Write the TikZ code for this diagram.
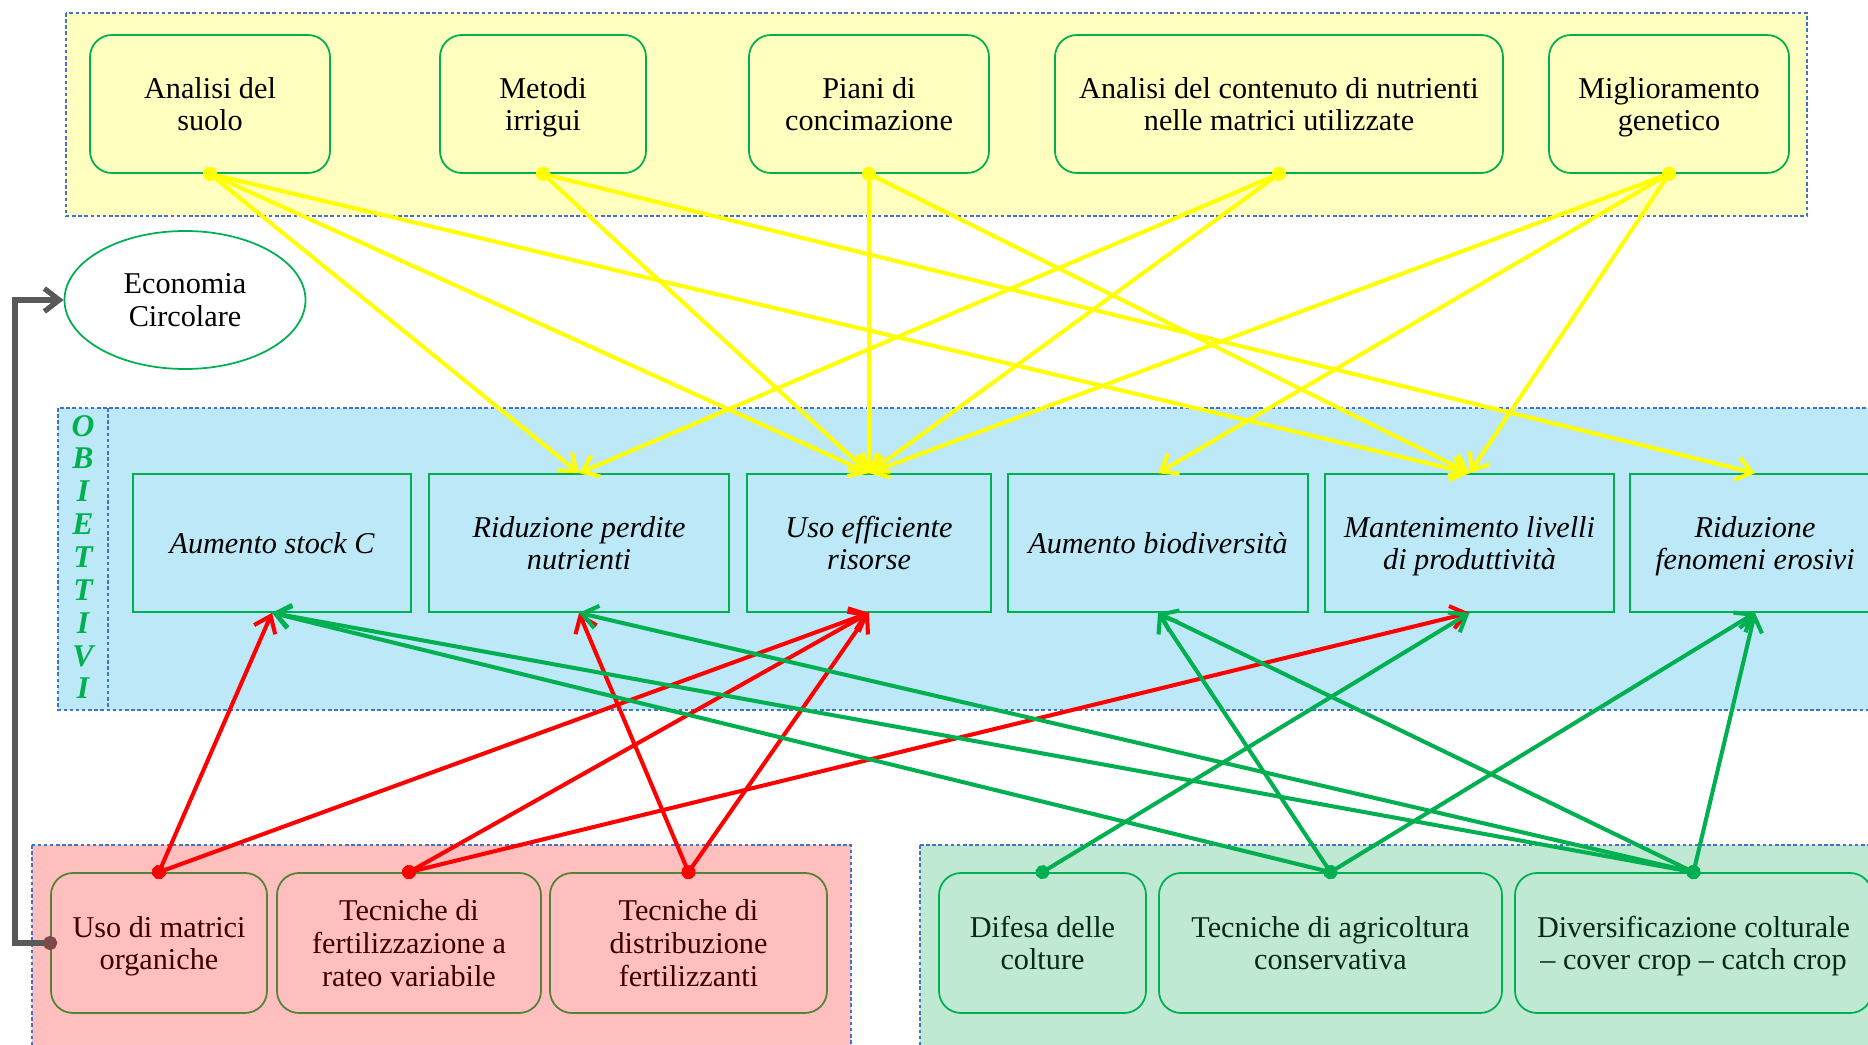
\documentclass[tikz,border=0pt]{standalone}
\usepackage{fontspec}
\setmainfont{Liberation Serif}
\usetikzlibrary{arrows.meta,shapes.geometric}

\definecolor{boxgreen}{HTML}{00B050}
\definecolor{topfill}{HTML}{FFFFC0}
\definecolor{goalfill}{HTML}{BDE8F7}
\definecolor{redfill}{HTML}{FFBFBF}
\definecolor{greenfill}{HTML}{BFE9D3}
\definecolor{oliveline}{HTML}{538135}
\definecolor{redtext}{HTML}{3D0000}
\definecolor{greentext}{HTML}{0A2912}
\definecolor{panelline}{HTML}{4472C4}
\definecolor{linkgray}{HTML}{595959}
\definecolor{dotbrown}{HTML}{7F4848}
\definecolor{linkyellow}{HTML}{FFFF00}
\definecolor{linkred}{HTML}{FF0000}

\tikzset{
  panelbox/.style={draw=panelline, line width=0.6pt, dash pattern=on 2pt off 1.5pt},
  topbox/.style={rectangle, rounded corners=4.4mm, draw=boxgreen, line width=1pt, fill=topfill, minimum height=27.6mm, align=center, inner sep=0pt, text depth=0pt},
  goalbox/.style={rectangle, draw=boxgreen, line width=1pt, fill=goalfill, minimum height=27.6mm, align=center, inner sep=0pt, text depth=0pt, font=\fontsize{17.2}{18.6}\selectfont\itshape},
  redbox/.style={rectangle, rounded corners=4.4mm, draw=oliveline, line width=1pt, fill=redfill, text=redtext, minimum height=28mm, align=center, inner sep=0pt, text depth=0pt},
  greenbox/.style={rectangle, rounded corners=4.4mm, draw=boxgreen, line width=1pt, fill=greenfill, text=greentext, minimum height=28mm, align=center, inner sep=0pt, text depth=0pt},
  link/.style={line width=2.3pt, arrows={Circle[length=2.8mm]-Straight Barb[length=3mm, width=4.6mm]}, shorten <=-1.4mm},
  ylink/.style={link, draw=linkyellow},
  rlink/.style={link, draw=linkred},
  glink/.style={link, draw=boxgreen},
  graylink/.style={draw=linkgray, line width=3pt, arrows={Circle[length=2.8mm, color=dotbrown]-Straight Barb[length=3mm, width=4.6mm]}, shorten <=-1.4mm}
}

\begin{document}
\begin{tikzpicture}[x=0.2mm, y=-0.2mm, font=\fontsize{17.2}{18.6}\selectfont]
  \useasboundingbox (0,0) rectangle (1868,1045);

  \draw[panelbox, fill=topfill] (66,13) rectangle (1807,216);
  \draw[panelbox, fill=goalfill] (58,408) rectangle (1890,710);
  \draw[panelbox] (108,408) -- (108,710);
  \draw[panelbox, fill=redfill] (32,845) rectangle (851,1070);
  \draw[panelbox, fill=greenfill] (920,845) rectangle (1890,1070);

  \node (suolo) [topbox, minimum width=48mm] at (210,104) {Analisi del\\suolo};
  \node (irrigui) [topbox, minimum width=41.2mm] at (543,104) {Metodi\\irrigui};
  \node (concimazione) [topbox, minimum width=48mm] at (869,104) {Piani di\\concimazione};
  \node (contenuto) [topbox, minimum width=89.6mm] at (1279,104) {Analisi del contenuto di nutrienti\\nelle matrici utilizzate};
  \node (genetico) [topbox, minimum width=48mm] at (1669,104) {Miglioramento\\genetico};

  \node (circolare) [ellipse, draw=boxgreen, line width=1pt, fill=white, minimum width=48.2mm, minimum height=27.6mm, align=center] at (185,300) {Economia\\Circolare};

  \node (obiettivi) [text=boxgreen, align=center, font=\fontsize{18}{18.7}\selectfont\bfseries\itshape] at (83,557) {O\\B\\I\\E\\T\\T\\I\\V\\I};

  \node (stock) [goalbox, minimum width=55.6mm] at (272,543) {Aumento stock C};
  \node (perdite) [goalbox, minimum width=60mm] at (579,543) {Riduzione perdite\\nutrienti};
  \node (risorse) [goalbox, minimum width=48.8mm] at (869,543) {Uso efficiente\\risorse};
  \node (biodiv) [goalbox, minimum width=60mm] at (1158,543) {Aumento biodiversità};
  \node (produttivita) [goalbox, minimum width=57.8mm] at (1469.5,543) {Mantenimento livelli\\di produttività};
  \node (erosivi) [goalbox, minimum width=50mm] at (1755,543) {Riduzione\\fenomeni erosivi};

  \node (organiche) [redbox, minimum width=43.2mm] at (159,943) {Uso di matrici\\organiche};
  \node (rateo) [redbox, minimum width=52.8mm] at (409,943) {Tecniche di\\fertilizzazione a\\rateo variabile};
  \node (distribuzione) [redbox, minimum width=55.4mm] at (688.5,943) {Tecniche di\\distribuzione\\fertilizzanti};
  \node (difesa) [greenbox, minimum width=41.4mm] at (1042.5,943) {Difesa delle\\colture};
  \node (conservativa) [greenbox, minimum width=68.6mm] at (1330.5,943) {Tecniche di agricoltura\\conservativa};
  \node (diversificazione) [greenbox, minimum width=71.4mm] at (1693.5,943) {Diversificazione colturale\\– cover crop – catch crop};

  \draw[ylink] (suolo.south) -- (perdite.north);
  \draw[ylink] (suolo.south) -- (risorse.north);
  \draw[ylink] (suolo.south) -- (produttivita.north);
  \draw[ylink] (irrigui.south) -- (risorse.north);
  \draw[ylink] (irrigui.south) -- (erosivi.north);
  \draw[ylink] (concimazione.south) -- (risorse.north);
  \draw[ylink] (concimazione.south) -- (produttivita.north);
  \draw[ylink] (contenuto.south) -- (perdite.north);
  \draw[ylink] (contenuto.south) -- (risorse.north);
  \draw[ylink] (genetico.south) -- (risorse.north);
  \draw[ylink] (genetico.south) -- (biodiv.north);
  \draw[ylink] (genetico.south) -- (produttivita.north);

  \draw[rlink] (organiche.north) -- (stock.south);
  \draw[rlink] (organiche.north) -- (risorse.south);
  \draw[rlink] (rateo.north) -- (risorse.south);
  \draw[rlink] (rateo.north) -- (produttivita.south);
  \draw[rlink] (distribuzione.north) -- (perdite.south);
  \draw[rlink] (distribuzione.north) -- (risorse.south);

  \draw[glink] (difesa.north) -- (produttivita.south);
  \draw[glink] (conservativa.north) -- (stock.south);
  \draw[glink] (conservativa.north) -- (biodiv.south);
  \draw[glink] (conservativa.north) -- (erosivi.south);
  \draw[glink] (diversificazione.north) -- (stock.south);
  \draw[glink] (diversificazione.north) -- (perdite.south);
  \draw[glink] (diversificazione.north) -- (biodiv.south);
  \draw[glink] (diversificazione.north) -- (erosivi.south);

  \draw[graylink] (organiche.west) -- ++(-35,0) |- (circolare.west);
\end{tikzpicture}
\end{document}
